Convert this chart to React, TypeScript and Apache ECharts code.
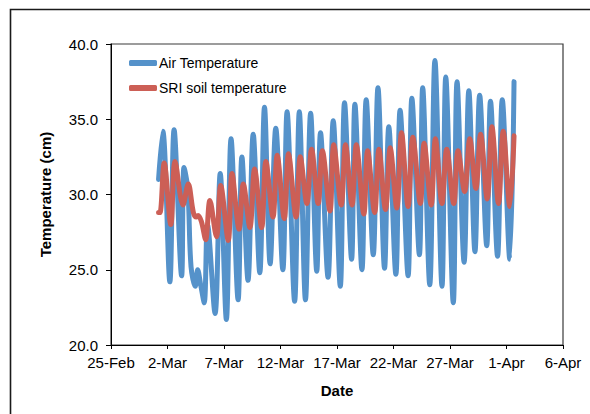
import React, { useEffect, useRef } from "react";
import * as echarts from "echarts";

// Readings: [ "MM-DD HH:mm", °C ]
const airTemperature: [string, number][] = [
  ["03-01 05:00", 31.0], ["03-01 14:00", 34.2], ["03-02 05:00", 24.2], ["03-02 14:00", 34.3],
  ["03-03 06:00", 24.6], ["03-03 11:00", 31.8], ["03-03 19:00", 30.4], ["03-04 02:00", 25.2],
  ["03-04 11:00", 23.9], ["03-04 16:00", 25.0], ["03-04 23:00", 23.9], ["03-05 06:00", 22.8],
  ["03-05 13:00", 28.0], ["03-06 05:00", 22.1], ["03-06 16:00", 31.4], ["03-07 05:00", 21.7],
  ["03-07 15:00", 33.7], ["03-08 06:00", 23.0], ["03-08 14:00", 32.5], ["03-09 03:00", 24.3],
  ["03-09 14:00", 34.0], ["03-10 04:00", 24.8], ["03-10 14:00", 35.8], ["03-11 02:00", 25.4],
  ["03-11 14:00", 34.4], ["03-12 05:00", 25.0], ["03-12 14:00", 35.5], ["03-13 06:00", 22.9],
  ["03-13 16:00", 35.5], ["03-14 05:00", 23.0], ["03-14 16:00", 35.4], ["03-15 05:00", 24.9],
  ["03-15 13:00", 34.1], ["03-16 05:00", 24.5], ["03-16 16:00", 34.9], ["03-17 07:00", 23.9],
  ["03-17 16:00", 36.1], ["03-18 07:00", 25.7], ["03-18 14:00", 36.0], ["03-19 05:00", 25.0],
  ["03-19 14:00", 36.3], ["03-20 05:00", 26.0], ["03-20 15:00", 37.1], ["03-21 05:00", 25.1],
  ["03-21 14:00", 34.5], ["03-22 05:00", 24.7], ["03-22 14:00", 35.6], ["03-23 07:00", 24.6],
  ["03-23 15:00", 36.4], ["03-24 07:00", 26.0], ["03-24 14:00", 37.1], ["03-25 05:00", 24.0],
  ["03-25 16:00", 38.9], ["03-26 07:00", 23.9], ["03-26 15:00", 37.8], ["03-27 07:00", 22.8],
  ["03-27 15:00", 37.5], ["03-28 06:00", 25.5], ["03-28 16:00", 36.9], ["03-29 05:00", 26.2],
  ["03-29 15:00", 36.6], ["03-30 06:00", 26.6], ["03-30 14:00", 36.2], ["03-31 05:00", 25.9],
  ["03-31 15:00", 36.3], ["04-01 07:00", 25.7], ["04-01 16:00", 37.5],
];

const soilTemperature: [string, number][] = [
  ["03-01 05:00", 28.8], ["03-01 08:00", 28.8], ["03-01 17:00", 32.1], ["03-02 07:00", 28.0],
  ["03-02 16:00", 32.2], ["03-03 09:00", 29.3], ["03-03 20:00", 30.7], ["03-04 07:00", 28.8],
  ["03-04 13:00", 28.5], ["03-04 17:00", 28.6], ["03-05 00:00", 28.2], ["03-05 09:00", 27.0],
  ["03-05 18:00", 29.6], ["03-06 08:00", 27.2], ["03-06 17:00", 30.6], ["03-07 09:00", 26.95],
  ["03-07 17:00", 31.4], ["03-08 08:00", 27.7], ["03-08 17:00", 30.7], ["03-09 07:00", 27.8],
  ["03-09 17:00", 31.7], ["03-10 08:00", 27.8], ["03-10 17:00", 32.2], ["03-11 08:00", 28.5],
  ["03-11 17:00", 32.6], ["03-12 08:00", 28.4], ["03-12 17:00", 32.7], ["03-13 09:00", 28.5],
  ["03-13 18:00", 32.5], ["03-14 08:00", 29.4], ["03-14 18:00", 33.0], ["03-15 08:00", 29.4],
  ["03-15 17:00", 32.9], ["03-16 09:00", 28.9], ["03-16 17:00", 33.3], ["03-17 09:00", 29.3],
  ["03-17 18:00", 33.3], ["03-18 08:00", 29.3], ["03-18 17:00", 33.3], ["03-19 09:00", 28.7],
  ["03-19 17:00", 32.9], ["03-20 08:00", 28.8], ["03-20 17:00", 33.0], ["03-21 07:00", 29.0],
  ["03-21 17:00", 33.1], ["03-22 07:00", 29.1], ["03-22 17:00", 34.1], ["03-23 07:00", 29.2],
  ["03-23 17:00", 33.8], ["03-24 09:00", 29.4], ["03-24 17:00", 33.4], ["03-25 08:00", 29.3],
  ["03-25 17:00", 33.7], ["03-26 07:00", 29.4], ["03-26 17:00", 33.0], ["03-27 08:00", 29.4],
  ["03-27 17:00", 32.9], ["03-28 07:00", 30.2], ["03-28 18:00", 33.7], ["03-29 07:00", 30.4],
  ["03-29 17:00", 34.0], ["03-30 07:00", 29.7], ["03-30 17:00", 34.5], ["03-31 07:00", 29.4],
  ["03-31 17:00", 34.2], ["04-01 07:00", 29.2], ["04-01 16:00", 33.9],
];

const xTickLabels = ["25-Feb", "2-Mar", "7-Mar", "12-Mar", "17-Mar", "22-Mar", "27-Mar", "1-Apr", "6-Apr"];
const seriesNames = ["Air Temperature", "SRI soil temperature"];

// days elapsed since 25-Feb 00:00 (non-leap year)
function toDay(s: string): number {
  const [md, hm] = s.split(" ");
  const [m, d] = md.split("-").map(Number);
  const [h, mi] = hm.split(":").map(Number);
  const monthStart: Record<number, number> = { 2: -25, 3: 3, 4: 34 };
  return monthStart[m] + d + (h + mi / 60) / 24;
}

export default function App() {
  const ref = useRef<HTMLDivElement>(null);
  useEffect(() => {
    if (!ref.current) return;
    const chart = echarts.init(ref.current, undefined, { renderer: "svg" });
    const font = "Arial, 'Liberation Sans', Helvetica, sans-serif";
    chart.setOption({
      animation: false,
      backgroundColor: "#ffffff",
      textStyle: { fontFamily: font },
      graphic: [
        {
          type: "rect",
          shape: { x: 10.5, y: 9.5, width: 620, height: 440 },
          style: { fill: "none", stroke: "#1a1a1a", lineWidth: 1.6 },
          silent: true,
        },
      ],
      grid: {
        left: 111,
        right: 27,
        top: 44,
        bottom: 69,
        show: true,
        borderColor: "#3a3a3a",
        borderWidth: 1.2,
        backgroundColor: "transparent",
      },
      legend: {
        orient: "vertical",
        left: 124,
        top: 51,
        itemWidth: 28,
        itemHeight: 6,
        itemGap: 11,
        icon: "roundRect",
        data: seriesNames,
        textStyle: { fontSize: 14, color: "#000", fontFamily: font, padding: [0, 0, 0, -3] },
      },
      xAxis: {
        type: "value",
        min: 0,
        max: 40,
        interval: 5,
        name: "Date",
        nameLocation: "middle",
        nameGap: 38,
        nameTextStyle: { fontSize: 15, fontWeight: "bold", color: "#000", fontFamily: font },
        axisLine: { lineStyle: { color: "#000", width: 1 } },
        axisTick: { show: true, inside: false, length: 4, lineStyle: { color: "#000" } },
        axisLabel: {
          fontSize: 15,
          color: "#000",
          margin: 10,
          fontFamily: font,
          formatter: (v: number) => xTickLabels[Math.round(v / 5)] ?? "",
        },
        splitLine: { show: false },
      },
      yAxis: {
        type: "value",
        min: 20,
        max: 40,
        interval: 5,
        name: "Temperature (cm)",
        nameLocation: "middle",
        nameGap: 58,
        nameTextStyle: { fontSize: 15, fontWeight: "bold", color: "#000", fontFamily: font },
        axisLine: { show: true, lineStyle: { color: "#000", width: 1 } },
        axisTick: { show: true, inside: false, length: 5, lineStyle: { color: "#000" } },
        axisLabel: {
          fontSize: 15,
          color: "#000",
          margin: 13,
          fontFamily: font,
          formatter: (v: number) => v.toFixed(1),
        },
        splitLine: { show: false },
      },
      series: [
        {
          name: seriesNames[0],
          type: "line",
          data: airTemperature.map(([t, v]) => [toDay(t), v]),
          showSymbol: false,
          smooth: 0.35,
          lineStyle: { color: "#5592CA", width: 5, cap: "round", join: "round" },
          itemStyle: { color: "#5592CA" },
        },
        {
          name: seriesNames[1],
          type: "line",
          data: soilTemperature.map(([t, v]) => [toDay(t), v]),
          showSymbol: false,
          smooth: 0.35,
          lineStyle: { color: "#CC5F56", width: 5, cap: "round", join: "round" },
          itemStyle: { color: "#CC5F56" },
        },
      ],
    });
    return () => chart.dispose();
  }, []);
  return (
    <div
      ref={ref}
      style={{ position: "fixed", left: 0, top: 0, width: 590, height: 414, background: "#fff" }}
    />
  );
}
